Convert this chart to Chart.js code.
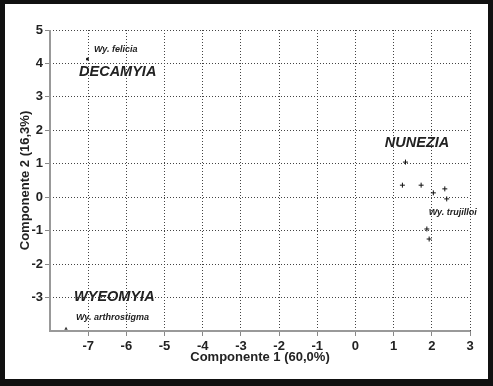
<!DOCTYPE html>
<html>
<head>
<meta charset="utf-8">
<script src="https://cdn.jsdelivr.net/npm/chart.js@4.4.0/dist/chart.umd.min.js"></script>
<style>
  html, body { margin: 0; padding: 0; background: #fff; }
  #wrap { width: 493px; height: 386px; }
</style>
</head>
<body>
<div id="wrap"><canvas id="chart-pca" width="493" height="386"></canvas></div>
<script>
// Datos (PCA)
const nuneziaX = [1.31, 1.23, 1.72, 2.04, 2.34, 2.39, 1.87, 1.93];
const nuneziaY = [1.05, 0.36, 0.36, 0.13, 0.25, -0.05, -0.95, -1.25];
const decamyiaX = [-7.02];
const decamyiaY = [4.13];
const wyeomyiaX = [-7.58];
const wyeomyiaY = [-3.93];

const xTicks = [-8, -7, -6, -5, -4, -3, -2, -1, 0, 1, 2, 3];
const yTicks = [-4, -3, -2, -1, 0, 1, 2, 3, 4, 5];

// Etiquetas de texto sobre el grafico (en coordenadas de datos)
const etiquetas = [
    { texto: 'Wy. felicia', x: -6.85, y: 4.43, tam: 9 },
    { texto: 'DECAMYIA', x: -7.24, y: 3.73, tam: 14.5 },
    { texto: 'NUNEZIA', x: 0.77, y: 1.63, tam: 14.5 },
    { texto: 'Wy. trujilloi', x: 1.92, y: -0.45, tam: 9 },
    { texto: 'WYEOMYIA', x: -7.37, y: -2.97, tam: 14.5 },
    { texto: 'Wy. arthrostigma', x: -7.32, y: -3.6, tam: 9 }
];

const toPoints = (xs, ys) => xs.map((x, i) => ({ x: x, y: ys[i] }));

const pluginEtiquetas = {
    id: 'etiquetas',
    afterDatasetsDraw(chart) {
        const ctx = chart.ctx;
        const sx = chart.scales.x;
        const sy = chart.scales.y;
        ctx.save();
        ctx.fillStyle = '#222';
        ctx.textAlign = 'left';
        ctx.textBaseline = 'middle';
        etiquetas.forEach(e => {
            ctx.font = `italic bold ${e.tam}px "Liberation Sans", Arial, sans-serif`;
            ctx.fillText(e.texto, sx.getPixelForValue(e.x), sy.getPixelForValue(e.y));
        });
        ctx.restore();
    }
};

// Ejes solidos grises (izquierdo e inferior)
const pluginEjes = {
    id: 'ejes',
    beforeDatasetsDraw(chart) {
        const ctx = chart.ctx;
        const a = chart.chartArea;
        ctx.save();
        ctx.strokeStyle = '#999';
        ctx.lineWidth = 2;
        ctx.setLineDash([]);
        ctx.beginPath();
        ctx.moveTo(a.left, a.top);
        ctx.lineTo(a.left, a.bottom);
        ctx.lineTo(a.right, a.bottom);
        ctx.stroke();
        ctx.restore();
    }
};

// Marco negro alrededor de la figura
const pluginMarco = {
    id: 'marco',
    afterDraw(chart) {
        const ctx = chart.ctx;
        const w = chart.width, h = chart.height;
        ctx.save();
        ctx.fillStyle = '#111';
        ctx.fillRect(0, 0, w, 4);
        ctx.fillRect(0, 0, 5, h);
        ctx.fillRect(w - 5, 0, 5, h);
        ctx.fillRect(0, h - 7, w, 7);
        ctx.restore();
    }
};

const fuenteTicks = { family: '"Liberation Sans", Arial, sans-serif', size: 13, weight: 'bold' };
const colorGrid = c => (c.index === 0 ? 'rgba(0,0,0,0)' : '#444');
const colorTick = c => (c.index === 0 ? 'rgba(0,0,0,0)' : '#888');

const chartPca = new Chart(document.getElementById('chart-pca').getContext('2d'), {
    type: 'scatter',
    data: {
        datasets: [
            {
                label: 'Nunezia',
                data: toPoints(nuneziaX, nuneziaY),
                pointStyle: 'cross',
                pointRadius: 2.5,
                borderColor: '#111',
                borderWidth: 1
            },
            {
                label: 'Decamyia',
                data: toPoints(decamyiaX, decamyiaY),
                pointStyle: 'circle',
                pointRadius: 1.5,
                backgroundColor: '#111',
                borderColor: '#111',
                borderWidth: 0
            },
            {
                label: 'Wyeomyia',
                data: toPoints(wyeomyiaX, wyeomyiaY),
                pointStyle: 'triangle',
                pointRadius: 2,
                backgroundColor: '#333',
                borderColor: '#333',
                borderWidth: 0
            }
        ]
    },
    options: {
        responsive: false,
        animation: false,
        layout: { padding: { top: 30, right: 23, left: 0, bottom: 0 } },
        plugins: {
            legend: { display: false },
            tooltip: { enabled: false }
        },
        scales: {
            x: {
                type: 'linear',
                min: -8,
                max: 3,
                afterBuildTicks: scale => { scale.ticks = xTicks.map(v => ({ value: v })); },
                afterFit: scale => { scale.height = 55; },
                ticks: {
                    font: fuenteTicks,
                    color: '#222',
                    padding: 3,
                    maxRotation: 0,
                    callback: v => (v === -8 ? '' : v)
                },
                grid: {
                    color: colorGrid,
                    tickLength: 5,
                    tickColor: colorTick,
                    tickBorderDash: []
                },
                border: { display: false, dash: [1, 2] },
                title: {
                    display: true,
                    text: 'Componente 1 (60,0%)',
                    font: fuenteTicks,
                    color: '#222',
                    padding: { top: 0, bottom: 21 }
                }
            },
            y: {
                type: 'linear',
                min: -4,
                max: 5,
                afterBuildTicks: scale => { scale.ticks = yTicks.map(v => ({ value: v })); },
                afterFit: scale => { scale.width = 50; },
                ticks: {
                    font: fuenteTicks,
                    color: '#222',
                    padding: 2,
                    callback: v => (v === -4 ? '' : v)
                },
                grid: {
                    color: colorGrid,
                    tickLength: 5,
                    tickColor: colorTick,
                    tickBorderDash: []
                },
                border: { display: false, dash: [1, 2] },
                title: {
                    display: true,
                    text: 'Componente 2 (16,3%)',
                    font: fuenteTicks,
                    color: '#222',
                    padding: { top: 18, bottom: 0 }
                }
            }
        }
    },
    plugins: [pluginEjes, pluginEtiquetas, pluginMarco]
});
</script>
</body>
</html>
